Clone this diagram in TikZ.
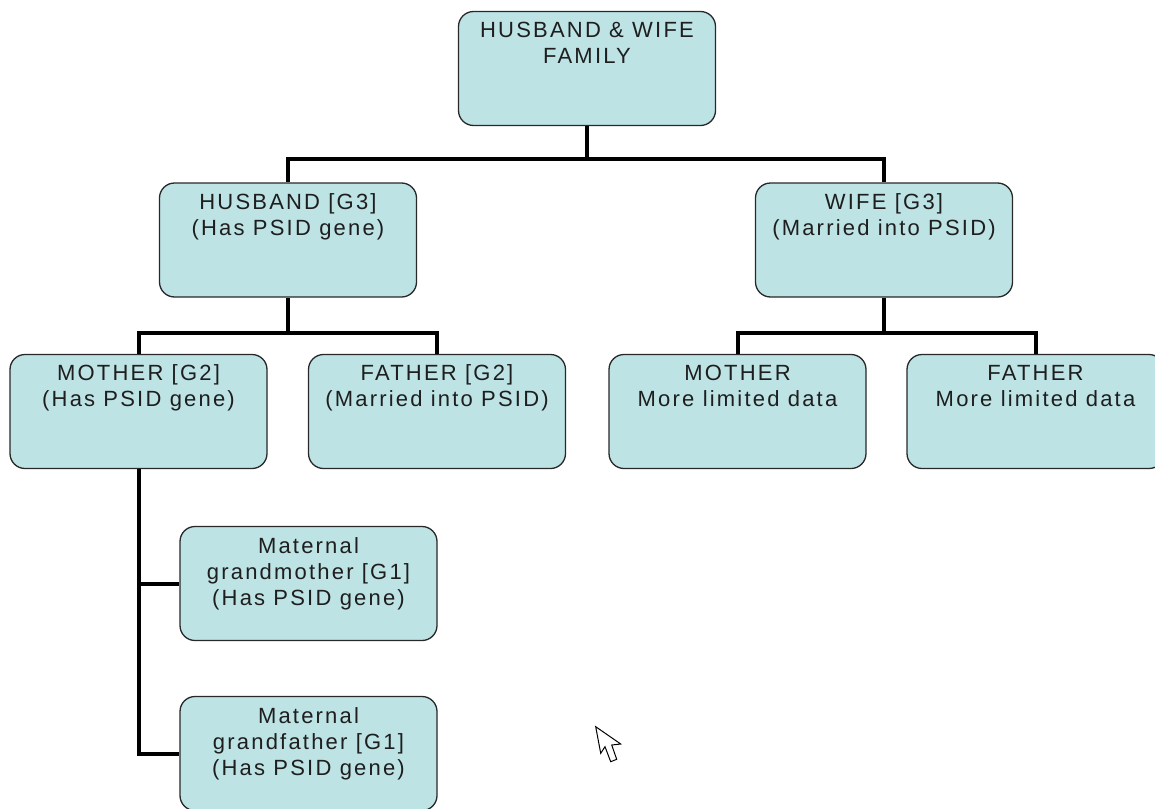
\documentclass[tikz,border=0pt]{standalone}
\usepackage{fontspec}
\setmainfont{Liberation Sans}[LetterSpace=10]
\begin{document}
\begin{tikzpicture}[x=1pt,y=-1pt,
  fambox/.style={draw=boxline,fill=boxfill,line width=1.3pt,rounded corners=15pt,
    minimum width=257pt,minimum height=114pt,inner sep=0pt},
  famtext/.style={anchor=north,inner sep=0pt,align=center,text=txt,
    font=\fontsize{22}{26}\selectfont},
  link/.style={line width=4pt,line join=miter,draw=black}]
\definecolor{boxfill}{RGB}{189,227,229}
\definecolor{boxline}{RGB}{40,40,40}
\definecolor{txt}{RGB}{30,30,30}
\useasboundingbox (0,0) rectangle (1155,808);
\fill[white] (0,0) rectangle (1155,808);
\clip (0,0) rectangle (1155,808);
% boxes
\node[fambox] (top) at (587,68.5) {};
\node[fambox] (hus) at (288,240) {};
\node[fambox] (wife) at (884,240) {};
\node[fambox] (mot) at (138.5,411.5) {};
\node[fambox] (fat) at (437,411.5) {};
\node[fambox] (mot2) at (737.5,411.5) {};
\node[fambox] (fat2) at (1035.5,411.5) {};
\node[fambox] (gm) at (308.5,583.5) {};
\node[fambox] (gf) at (308.5,753.5) {};
% texts
\node[famtext] (ttop) at ([yshift=-11pt]top.north) {HUSBAND \& WIFE\\FAMILY};
\node[famtext] (thus) at ([yshift=-11pt]hus.north) {HUSBAND [G3]\\(Has PSID gene)};
\node[famtext] (twife) at ([yshift=-11pt]wife.north) {WIFE [G3]\\(Married into PSID)};
\node[famtext] (tmot) at ([yshift=-11pt]mot.north) {MOTHER [G2]\\(Has PSID gene)};
\node[famtext] (tfat) at ([yshift=-11pt]fat.north) {FATHER [G2]\\(Married into PSID)};
\node[famtext] (tmot2) at ([yshift=-11pt]mot2.north) {MOTHER\\More limited data};
\node[famtext] (tfat2) at ([yshift=-11pt]fat2.north) {FATHER\\More limited data};
\node[famtext] (tgm) at ([yshift=-11pt]gm.north) {Maternal\\grandmother [G1]\\(Has PSID gene)};
\node[famtext] (tgf) at ([yshift=-11pt]gf.north) {Maternal\\grandfather [G1]\\(Has PSID gene)};
% connectors
\coordinate (j1) at (587,159);
\coordinate (j2) at (288,333);
\coordinate (j3) at (884,333);
\draw[link] (top.south) -- (j1);
\draw[link] (hus.north) -- (hus.north |- j1) -- (wife.north |- j1) -- (wife.north);
\draw[link] (hus.south) -- (j2);
\draw[link] (mot.north) -- (mot.north |- j2) -- (fat.north |- j2) -- (fat.north);
\draw[link] (wife.south) -- (j3);
\draw[link] (mot2.north) -- (mot2.north |- j3) -- (fat2.north |- j3) -- (fat2.north);
\draw[link] (mot.south) |- (gf.west);
\draw[link] (mot.south |- gm.west) -- (gm.west);
% mouse pointer
\draw[fill=white,line width=1pt,line join=miter] (595.7,726.7) -- (600.7,753.3) -- (605,746.7) -- (610.7,761.7) -- (616.7,759.3) -- (611.7,745) -- (620.7,744) -- cycle;
\end{tikzpicture}
\end{document}
